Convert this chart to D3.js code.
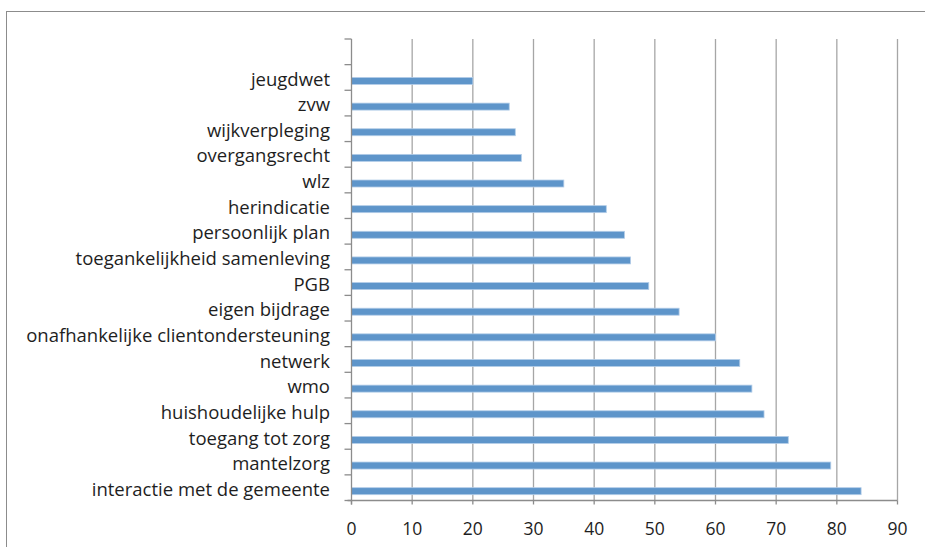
<!DOCTYPE html>
<html>
<head>
<meta charset="utf-8">
<script src="https://cdn.jsdelivr.net/npm/d3@7"></script>
<style>
  body { margin: 0; background: #fff; }
  svg { display: block; }
  text { font-family: "Open Sans", Lato, sans-serif; fill: #1e1e1e; }
</style>
</head>
<body>
<svg width="925" height="547"></svg>
<script>
// Categories top to bottom (first slot is an empty row in the sheet)
const categories = [
    "",
    "jeugdwet",
    "zvw",
    "wijkverpleging",
    "overgangsrecht",
    "wlz",
    "herindicatie",
    "persoonlijk plan",
    "toegankelijkheid samenleving",
    "PGB",
    "eigen bijdrage",
    "onafhankelijke clientondersteuning",
    "netwerk",
    "wmo",
    "huishoudelijke hulp",
    "toegang tot zorg",
    "mantelzorg",
    "interactie met de gemeente"
];
const values = [null, 20, 26, 27, 28, 35, 42, 45, 46, 49, 54, 60, 64, 66, 68, 72, 79, 84];
const xTicks = [0, 10, 20, 30, 40, 50, 60, 70, 80, 90];

const svg = d3.select("svg");

// chart frame
svg.append("rect")
   .attr("x", 6.5)
   .attr("y", 11.5)
   .attr("width", 1000)
   .attr("height", 1000)
   .attr("fill", "none")
   .attr("stroke", "#8c8c8c")
   .attr("stroke-width", 1);

const plotLeft = 351.5, plotRight = 897.5, plotTop = 39, plotBottom = 500.5;

const x = d3.scaleLinear().domain([0, 90]).range([plotLeft, plotRight]);
const y = d3.scaleBand().domain(categories).range([plotTop, plotBottom]);

// gridlines
svg.append("g")
   .selectAll("line")
   .data(xTicks.slice(1))
   .join("line")
   .attr("x1", d => x(d))
   .attr("x2", d => x(d))
   .attr("y1", plotTop)
   .attr("y2", plotBottom)
   .attr("stroke", "#a6a6a6")
   .attr("stroke-width", 1.3);

// bars (sit a little below the band centre, like the second series slot in Excel)
const bh = 7, barShift = 3.5;
svg.append("g")
   .selectAll("rect")
   .data(categories.map((c, i) => ({cat: c, val: values[i]})).filter(d => d.val != null))
   .join("rect")
   .attr("x", x(0))
   .attr("y", d => y(d.cat) + y.bandwidth() / 2 - bh / 2 + barShift)
   .attr("width", d => x(d.val) - x(0))
   .attr("height", bh)
   .attr("fill", "#5e95ca")
   .attr("stroke", "#b3cde8")
   .attr("stroke-width", 0.8);

// y axis line + ticks between bands
const yBounds = categories.map(c => y(c)).concat([plotBottom]);
svg.append("line")
   .attr("x1", plotLeft).attr("x2", plotLeft)
   .attr("y1", plotTop).attr("y2", plotBottom + 4)
   .attr("stroke", "#8c8c8c")
   .attr("stroke-width", 1.3);
svg.append("g")
   .selectAll("line")
   .data(yBounds)
   .join("line")
   .attr("x1", plotLeft - 7)
   .attr("x2", plotLeft)
   .attr("y1", d => d)
   .attr("y2", d => d)
   .attr("stroke", "#8c8c8c")
   .attr("stroke-width", 1.3);

// x axis line + ticks
svg.append("line")
   .attr("x1", plotLeft - 4).attr("x2", plotRight)
   .attr("y1", plotBottom).attr("y2", plotBottom)
   .attr("stroke", "#8c8c8c")
   .attr("stroke-width", 1.3);
svg.append("g")
   .selectAll("line")
   .data(xTicks)
   .join("line")
   .attr("x1", d => x(d))
   .attr("x2", d => x(d))
   .attr("y1", plotBottom)
   .attr("y2", plotBottom + 4)
   .attr("stroke", "#8c8c8c")
   .attr("stroke-width", 1.3);

// x tick labels
svg.append("g")
   .selectAll("text")
   .data(xTicks)
   .join("text")
   .attr("x", d => x(d))
   .attr("y", 535)
   .attr("text-anchor", "middle")
   .style("font-size", "17.5px")
   .text(d => d);

// category labels
svg.append("g")
   .selectAll("text")
   .data(categories.filter(c => c !== ""))
   .join("text")
   .attr("x", 330)
   .attr("y", d => y(d) + y.bandwidth() / 2 + 2)
   .attr("dy", "0.33em")
   .attr("text-anchor", "end")
   .style("font-size", "18.5px")
   .text(d => d);
</script>
</body>
</html>
